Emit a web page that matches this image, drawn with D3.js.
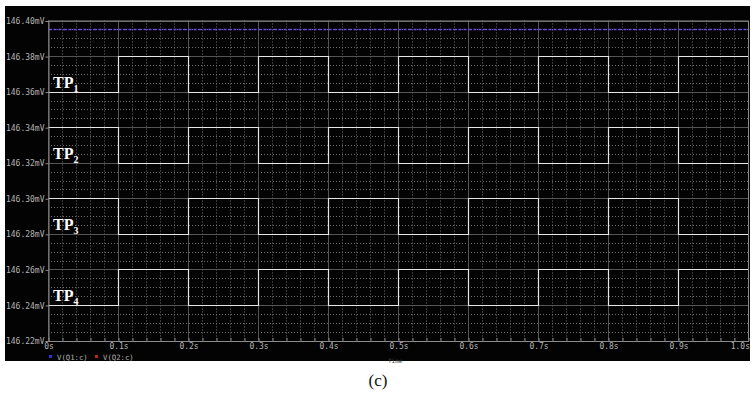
<!DOCTYPE html>
<html>
<head>
<meta charset="utf-8">
<script src="https://cdn.jsdelivr.net/npm/d3@7"></script>
<style>
  body { margin: 0; background: #fff; }
  svg { display: block; }
  .axis text { font-family: "DejaVu Sans Mono", monospace; font-size: 8px; fill: #b4b4b4; }
  .axis path, .axis line { stroke: #8a8a8a; }
  .tp { font-family: "Liberation Serif", "Times New Roman", serif; font-weight: bold; fill: #fff; }
</style>
</head>
<body>
<svg width="756" height="395"></svg>
<script>
// Time breakpoints (s) and the square-wave levels (mV) in each 0.1 s slot
var times = [0, 0.1, 0.2, 0.3, 0.4, 0.5, 0.6, 0.7, 0.8, 0.9, 1.0];
var tp1 = [146.36, 146.38, 146.36, 146.38, 146.36, 146.38, 146.36, 146.38, 146.36, 146.38];
var tp2 = [146.34, 146.32, 146.34, 146.32, 146.34, 146.32, 146.34, 146.32, 146.34, 146.32];
var tp3 = [146.30, 146.28, 146.30, 146.28, 146.30, 146.28, 146.30, 146.28, 146.30, 146.28];
var tp4 = [146.24, 146.26, 146.24, 146.26, 146.24, 146.26, 146.24, 146.26, 146.24, 146.26];
var q1Level = [146.395, 146.395];

var yTicks = [146.22, 146.24, 146.26, 146.28, 146.30, 146.32, 146.34, 146.36, 146.38, 146.40];
var xTickLabels = ['0s', '0.1s', '0.2s', '0.3s', '0.4s', '0.5s', '0.6s', '0.7s', '0.8s', '0.9s', '1.0s'];
var tpNames = ['1', '2', '3', '4'];
var tpLow = [146.36, 146.32, 146.28, 146.24];
var legendNames = ['V(Q1:c)', 'V(Q2:c)'];
var legendColors = ['#3a2ad8', '#c02020'];

var svg = d3.select('svg');

// black scope panel
svg.append('rect')
    .attr('x', 5).attr('y', 6)
    .attr('width', 745).attr('height', 355)
    .attr('fill', '#030303');

var plot = {l: 48, r: 748, t: 20.5, b: 340.5};

var x = d3.scaleLinear().domain([0, 1.0]).range([plot.l, plot.r]);
var y = d3.scaleLinear().domain([146.22, 146.40]).range([plot.b, plot.t]);

var g = svg.append('g');

// minor dotted grid
var minorX = d3.range(0, 51).map(function(i) { return i * 0.02; })
    .filter(function(d, i) { return i % 5 !== 0; });
var minorY = d3.range(0, 37).map(function(i) { return 146.22 + i * 0.005; })
    .filter(function(d, i) { return i % 4 !== 0; });

g.selectAll('.vminor').data(minorX).enter().append('line')
    .attr('x1', function(d) { return Math.round(x(d)) + 0.5; })
    .attr('x2', function(d) { return Math.round(x(d)) + 0.5; })
    .attr('y1', plot.t).attr('y2', plot.b)
    .attr('stroke', '#6e6e6e').attr('stroke-dasharray', '1,2');

g.selectAll('.hminor').data(minorY).enter().append('line')
    .attr('y1', function(d) { return Math.round(y(d)) + 0.5; })
    .attr('y2', function(d) { return Math.round(y(d)) + 0.5; })
    .attr('x1', plot.l).attr('x2', plot.r)
    .attr('stroke', '#6e6e6e').attr('stroke-dasharray', '1,2');

// major solid grid
g.selectAll('.vmajor').data(times).enter().append('line')
    .attr('x1', function(d) { return Math.round(x(d)) + 0.5; })
    .attr('x2', function(d) { return Math.round(x(d)) + 0.5; })
    .attr('y1', plot.t).attr('y2', plot.b)
    .attr('stroke', '#555');

g.selectAll('.hmajor').data(yTicks).enter().append('line')
    .attr('y1', function(d) { return Math.round(y(d)) + 0.5; })
    .attr('y2', function(d) { return Math.round(y(d)) + 0.5; })
    .attr('x1', plot.l).attr('x2', plot.r)
    .attr('stroke', '#555');

// axes
var yAxis = d3.axisLeft(y).tickValues(yTicks).tickSize(3).tickPadding(1)
    .tickFormat(function(d) { return d3.format('.2f')(d) + 'mV'; });
svg.append('g').attr('class', 'axis')
    .attr('transform', 'translate(' + (plot.l + 0.5) + ',0.5)')
    .call(yAxis);

var xAxis = d3.axisBottom(x).tickValues(times).tickSize(0).tickPadding(2)
    .tickFormat(function(d, i) { return xTickLabels[i]; });
var xg = svg.append('g').attr('class', 'axis')
    .attr('transform', 'translate(0.5,' + (plot.b + 0.5) + ')')
    .call(xAxis);
xg.selectAll('.tick:last-of-type text').attr('text-anchor', 'end').attr('dx', 1);

svg.append('g').attr('class', 'axis')
    .attr('transform', 'translate(0.5,' + (plot.b + 0.5) + ')')
    .call(d3.axisBottom(x).tickValues(minorX.concat(times)).tickSize(-3).tickFormat(''))
    .select('.domain').remove();

// top and right frame
svg.append('path')
    .attr('d', 'M' + plot.l + ',' + (plot.t + 0.5) + 'H' + (plot.r + 0.5) + 'V' + plot.b)
    .attr('fill', 'none').attr('stroke', '#8a8a8a');

// traces
function stepPoints(vals) {
    var pts = vals.map(function(v, i) { return [times[i], v]; });
    pts.push([times[times.length - 1], vals[vals.length - 1]]);
    return pts;
}
var line = d3.line()
    .x(function(d) { return Math.round(x(d[0])) + 0.5; })
    .y(function(d) { return Math.round(y(d[1])) + 0.5; })
    .curve(d3.curveStepAfter);

[tp1, tp2, tp3, tp4].forEach(function(vals) {
    g.append('path')
        .attr('d', line(stepPoints(vals)))
        .attr('fill', 'none')
        .attr('stroke', '#e6e6e6')
        .attr('stroke-width', 1.2);
});

g.append('path')
    .attr('d', line([[times[0], q1Level[0]], [times[times.length - 1], q1Level[1]]]))
    .attr('fill', 'none')
    .attr('stroke', '#6c48ee')
    .attr('stroke-width', 1.5)
    .attr('stroke-dasharray', '3,2');

// TP labels
tpNames.forEach(function(n, i) {
    var t = svg.append('text').attr('class', 'tp')
        .attr('x', 53).attr('y', y(tpLow[i]) - 4)
        .attr('font-size', 16);
    t.append('tspan').text('TP');
    t.append('tspan').attr('font-size', 10).attr('dy', 4).text(n);
});

// legend
legendNames.forEach(function(name, i) {
    var lx = 49 + i * 46;
    svg.append('rect')
        .attr('x', lx).attr('y', 355)
        .attr('width', 3).attr('height', 3)
        .attr('fill', legendColors[i]);
    svg.append('text')
        .attr('x', lx + 8).attr('y', 359.5)
        .attr('font-family', 'DejaVu Sans Mono, monospace')
        .attr('font-size', 7.3).attr('fill', '#b4b4b4')
        .text(name);
});

// faint axis title
svg.append('text')
    .attr('x', 388).attr('y', 363)
    .attr('font-family', 'DejaVu Sans Mono, monospace')
    .attr('font-size', 6).attr('fill', '#444')
    .text('Time');

// caption
svg.append('text')
    .attr('x', 378).attr('y', 386)
    .attr('text-anchor', 'middle')
    .attr('font-family', 'Liberation Serif, serif')
    .attr('font-size', 17)
    .attr('fill', '#111')
    .text('(c)');
</script>
</body>
</html>
